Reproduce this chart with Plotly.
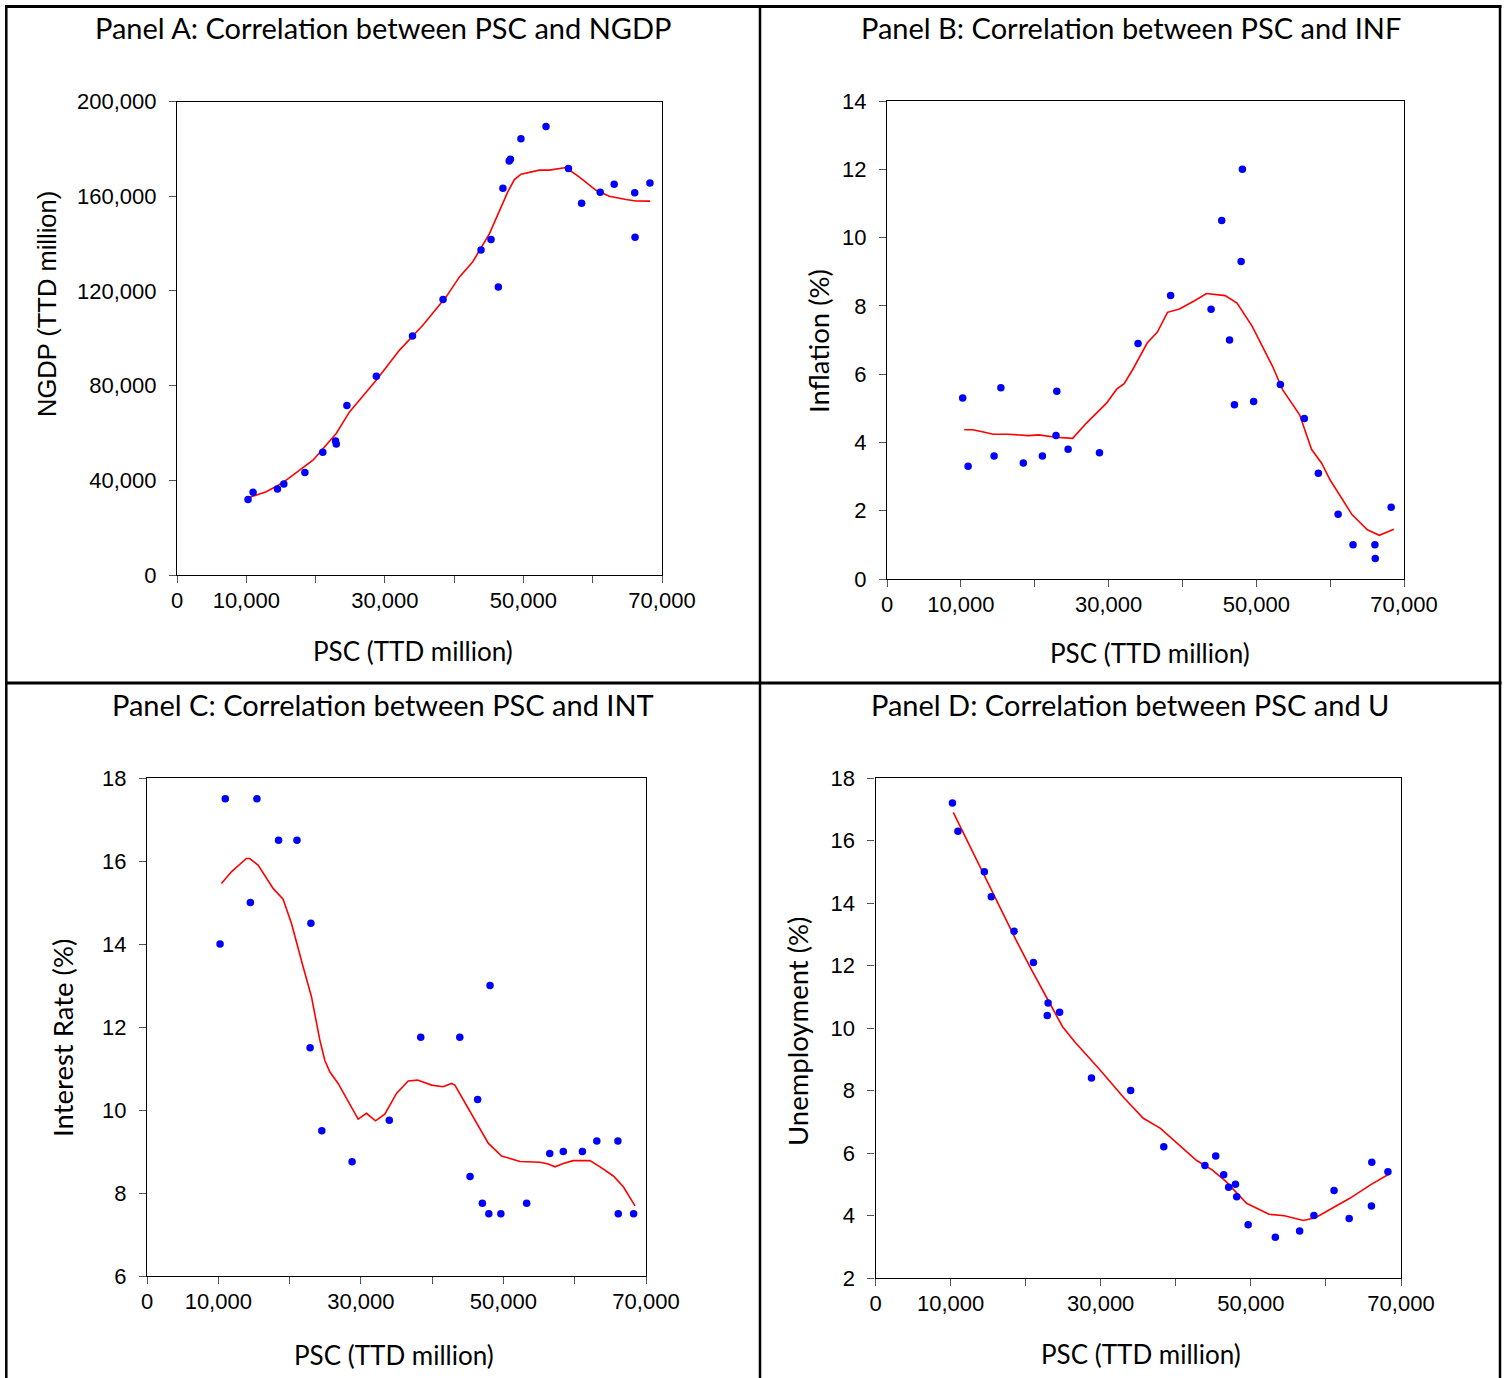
import plotly.graph_objects as go

W, H = 1509, 1378

# ---------------- data ----------------
psc = [10250, 10980, 14500, 15420, 18460, 21040, 22880, 22990, 24520, 28770,
       33990, 38400, 43880, 45320, 46380, 47040, 47950, 48120, 49640, 53260,
       56500, 58400, 61080, 63100, 66060, 66110, 68260]

ngdp = [31900, 34900, 36300, 38400, 43300, 51800, 56600, 55300, 71600, 84000,
        101000, 116400, 137300, 141700, 121600, 163400, 174900, 175600, 184300, 189400,
        171700, 157000, 161700, 165000, 161500, 142700, 165600]

inf = [5.3, 3.3, 3.6, 5.6, 3.4, 3.6, 4.2, 5.5, 3.8, 3.7,
       6.9, 8.3, 7.9, 10.5, 7.0, 5.1, 9.3, 12.0, 5.2, 5.7,
       4.7, 3.1, 1.9, 1.0, 1.0, 0.6, 2.1]

intr = [14.0, 17.5, 15.0, 17.5, 16.5, 16.5, 11.5, 14.5, 9.5, 8.75,
        9.75, 11.75, 11.75, 8.4, 10.25, 7.75, 7.5, 13.0, 7.5, 7.75,
        8.95, 9.0, 9.0, 9.25, 9.25, 7.5, 7.5]

unemp = [17.2, 16.3, 15.0, 14.2, 13.1, 12.1, 10.4, 10.8, 10.5, 8.4,
         8.0, 6.2, 5.6, 5.9, 5.3, 4.9, 5.0, 4.6, 3.7, 3.3,
         3.5, 4.0, 4.8, 3.9, 4.3, 5.7, 5.4]

# smoothed (red) curves
fitA_x = [10480, 12880, 15290, 19620, 22980, 24900, 28750, 32120, 35480, 38850,
          40770, 42690, 45100, 47740, 48700, 49660, 52310, 53750, 56150, 58080,
          60480, 62400, 64810, 66250, 68270]
fitA_y = [32800, 35200, 39000, 48500, 59800, 68900, 82300, 95000, 105500, 117500,
          125900, 132300, 144200, 161800, 167000, 169300, 171000, 171000, 172100, 168100,
          162500, 160000, 158600, 158000, 157900]

fitB_x = [10460, 11610, 12750, 14360, 16420, 19170, 20550, 22840, 25140, 26970,
          29720, 31100, 32110, 33390, 35230, 36610, 37980, 39590, 41650, 43260,
          45780, 47390, 49450, 52200, 53580, 55870, 57480, 58850, 60000, 62980,
          65050, 66650, 68620]
fitB_y = [4.37, 4.37, 4.32, 4.24, 4.24, 4.20, 4.22, 4.15, 4.12, 4.56,
          5.15, 5.56, 5.72, 6.18, 6.91, 7.23, 7.81, 7.91, 8.15, 8.36,
          8.30, 8.08, 7.40, 6.23, 5.54, 4.81, 3.80, 3.39, 2.90, 1.88,
          1.44, 1.28, 1.46]

fitC_x = [10440, 11840, 13940, 14410, 15580, 17690, 19090, 20260, 21900, 23070,
          24240, 24940, 25640, 26810, 29620, 30790, 32050, 33360, 35000, 36640,
          37950, 39920, 41550, 42720, 43190, 45770, 47870, 49740, 52320, 55120,
          56290, 57230, 58400, 59800, 62140, 63550, 65420, 66820, 68460]
fitC_y = [15.46, 15.74, 16.06, 16.06, 15.90, 15.34, 15.08, 14.50, 13.45, 12.73,
          11.69, 11.20, 10.92, 10.64, 9.78, 9.92, 9.74, 9.90, 10.40, 10.70,
          10.72, 10.60, 10.56, 10.64, 10.60, 9.84, 9.20, 8.89, 8.76, 8.74,
          8.70, 8.63, 8.71, 8.78, 8.78, 8.63, 8.41, 8.15, 7.69]

fitD_x = [10360, 12290, 14580, 16420, 18710, 20540, 22830, 24900, 26500, 29710,
          33150, 35670, 37960, 40710, 42780, 44840, 46670, 49430, 52410, 54470,
          56990, 58600, 63180, 65930, 68590]
fitD_y = [16.90, 15.94, 14.85, 13.94, 12.82, 11.97, 10.96, 10.05, 9.57, 8.71,
          7.75, 7.11, 6.79, 6.21, 5.76, 5.46, 5.09, 4.39, 4.04, 3.99,
          3.84, 3.93, 4.55, 4.98, 5.35]

x_tickvals = [0, 10000, 20000, 30000, 40000, 50000, 60000, 70000]
x_ticktext = ["0", "10,000", "", "30,000", "", "50,000", "", "70,000"]

titles = ["Panel A: Correlation between PSC and NGDP",
          "Panel B: Correlation between PSC and INF",
          "Panel C: Correlation between PSC and INT",
          "Panel D: Correlation between PSC and U"]
x_title = "PSC (TTD million)"
y_titles = ["NGDP (TTD million)", "Inflation (%)", "Interest Rate (%)", "Unemployment (%)"]

# ---------------- layout geometry (pixels) ----------------
panels = [
    dict(ys=ngdp, fx=fitA_x, fy=fitA_y, box=(177, 662, 101.5, 575), yr=[0, 200000],
         ytv=[0, 40000, 80000, 120000, 160000, 200000],
         ytt=["0", "40,000", "80,000", "120,000", "160,000", "200,000"],
         title_xy=(383, 28), xt_xy=(413, 651), yt_xy=(47, 304)),
    dict(ys=inf, fx=fitB_x, fy=fitB_y, box=(887, 1404, 101, 579), yr=[0, 14],
         ytv=[0, 2, 4, 6, 8, 10, 12, 14], ytt=None,
         title_xy=(1131, 28), xt_xy=(1150, 653), yt_xy=(818, 341)),
    dict(ys=intr, fx=fitC_x, fy=fitC_y, box=(147, 646, 778, 1276), yr=[6, 18],
         ytv=[6, 8, 10, 12, 14, 16, 18], ytt=None,
         title_xy=(383, 705), xt_xy=(394, 1355), yt_xy=(62, 1038)),
    dict(ys=unemp, fx=fitD_x, fy=fitD_y, box=(875.5, 1401, 778, 1278), yr=[2, 18],
         ytv=[2, 4, 6, 8, 10, 12, 14, 16, 18], ytt=None,
         title_xy=(1130, 705), xt_xy=(1141, 1354), yt_xy=(797, 1032)),
]

TITLE_FONT = dict(family="Lato, Carlito, sans-serif", size=29, color="black")
XT_FONT = dict(family="Lato, Carlito, sans-serif", size=26, color="black")
YT2_FONT = dict(family="Lato, Carlito, sans-serif", size=27.5, color="black")
TICK_FONT = dict(family="Liberation Sans, Arial, sans-serif", size=22, color="black")
YT_FONT = dict(family="Liberation Sans, Arial, sans-serif", size=25.5, color="black")

fig = go.Figure()
annotations = []
layout_axes = {}

for i, p in enumerate(panels):
    n = "" if i == 0 else str(i + 1)
    xa, ya = "x" + n, "y" + n
    x0, x1, y0, y1 = p["box"]
    fig.add_trace(go.Scatter(x=p["fx"], y=p["fy"], mode="lines",
                             line=dict(color="#FF0000", width=1.6),
                             xaxis=xa, yaxis=ya, showlegend=False, hoverinfo="skip"))
    fig.add_trace(go.Scatter(x=psc, y=p["ys"], mode="markers",
                             marker=dict(color="#0000FF", size=7.5, line=dict(width=0)),
                             xaxis=xa, yaxis=ya, showlegend=False))
    common = dict(showline=True, mirror=True, linecolor="black", linewidth=1.2,
                  ticks="outside", ticklen=7, tickwidth=1, tickcolor="#555555",
                  showgrid=False, zeroline=False, tickfont=TICK_FONT, automargin=False)
    layout_axes["xaxis" + n] = dict(common, domain=[x0 / W, x1 / W], range=[0, 70000],
                                    tickvals=x_tickvals, ticktext=x_ticktext,
                                    anchor=ya, ticklabelstandoff=-2)
    yax = dict(common, domain=[1 - y1 / H, 1 - y0 / H], range=p["yr"],
               tickvals=p["ytv"], anchor=xa, ticklabelstandoff=8)
    if p["ytt"] is not None:
        yax["ticktext"] = p["ytt"]
    layout_axes["yaxis" + n] = yax

    tx, ty = p["title_xy"]
    annotations.append(dict(text=titles[i], x=tx / W, y=1 - ty / H, xref="paper", yref="paper",
                            xanchor="center", yanchor="middle", showarrow=False, font=TITLE_FONT))
    tx, ty = p["xt_xy"]
    annotations.append(dict(text=x_title, x=tx / W, y=1 - ty / H, xref="paper", yref="paper",
                            xanchor="center", yanchor="middle", showarrow=False, font=XT_FONT))
    tx, ty = p["yt_xy"]
    annotations.append(dict(text=y_titles[i], x=tx / W, y=1 - ty / H, xref="paper", yref="paper",
                            xanchor="center", yanchor="middle", showarrow=False, textangle=-90,
                            font=YT_FONT if i == 0 else YT2_FONT))

# panel borders
def hline(y, xa, xb, w):
    return dict(type="line", xref="paper", yref="paper", x0=xa / W, x1=xb / W,
                y0=1 - y / H, y1=1 - y / H, line=dict(color="black", width=w))

def vline(x, ya, yb, w):
    return dict(type="line", xref="paper", yref="paper", x0=x / W, x1=x / W,
                y0=1 - ya / H, y1=1 - yb / H, line=dict(color="black", width=w))

shapes = [hline(6.5, 5, 1501.5, 3), hline(683, 5, 1501.5, 3),
          vline(6.3, 5, H, 2.5), vline(760, 5, H, 2.5), vline(1500, 5, H, 2.5)]

fig.update_layout(width=W, height=H, margin=dict(l=0, r=0, t=0, b=0, autoexpand=False),
                  paper_bgcolor="white", plot_bgcolor="white", template="none",
                  annotations=annotations, shapes=shapes, **layout_axes)

fig.write_html("out.html",
               config={"displayModeBar": False},
               post_script="document.body.style.margin='0';"
                           "document.body.style.overflow='hidden';"
                           "document.documentElement.style.overflow='hidden';")
